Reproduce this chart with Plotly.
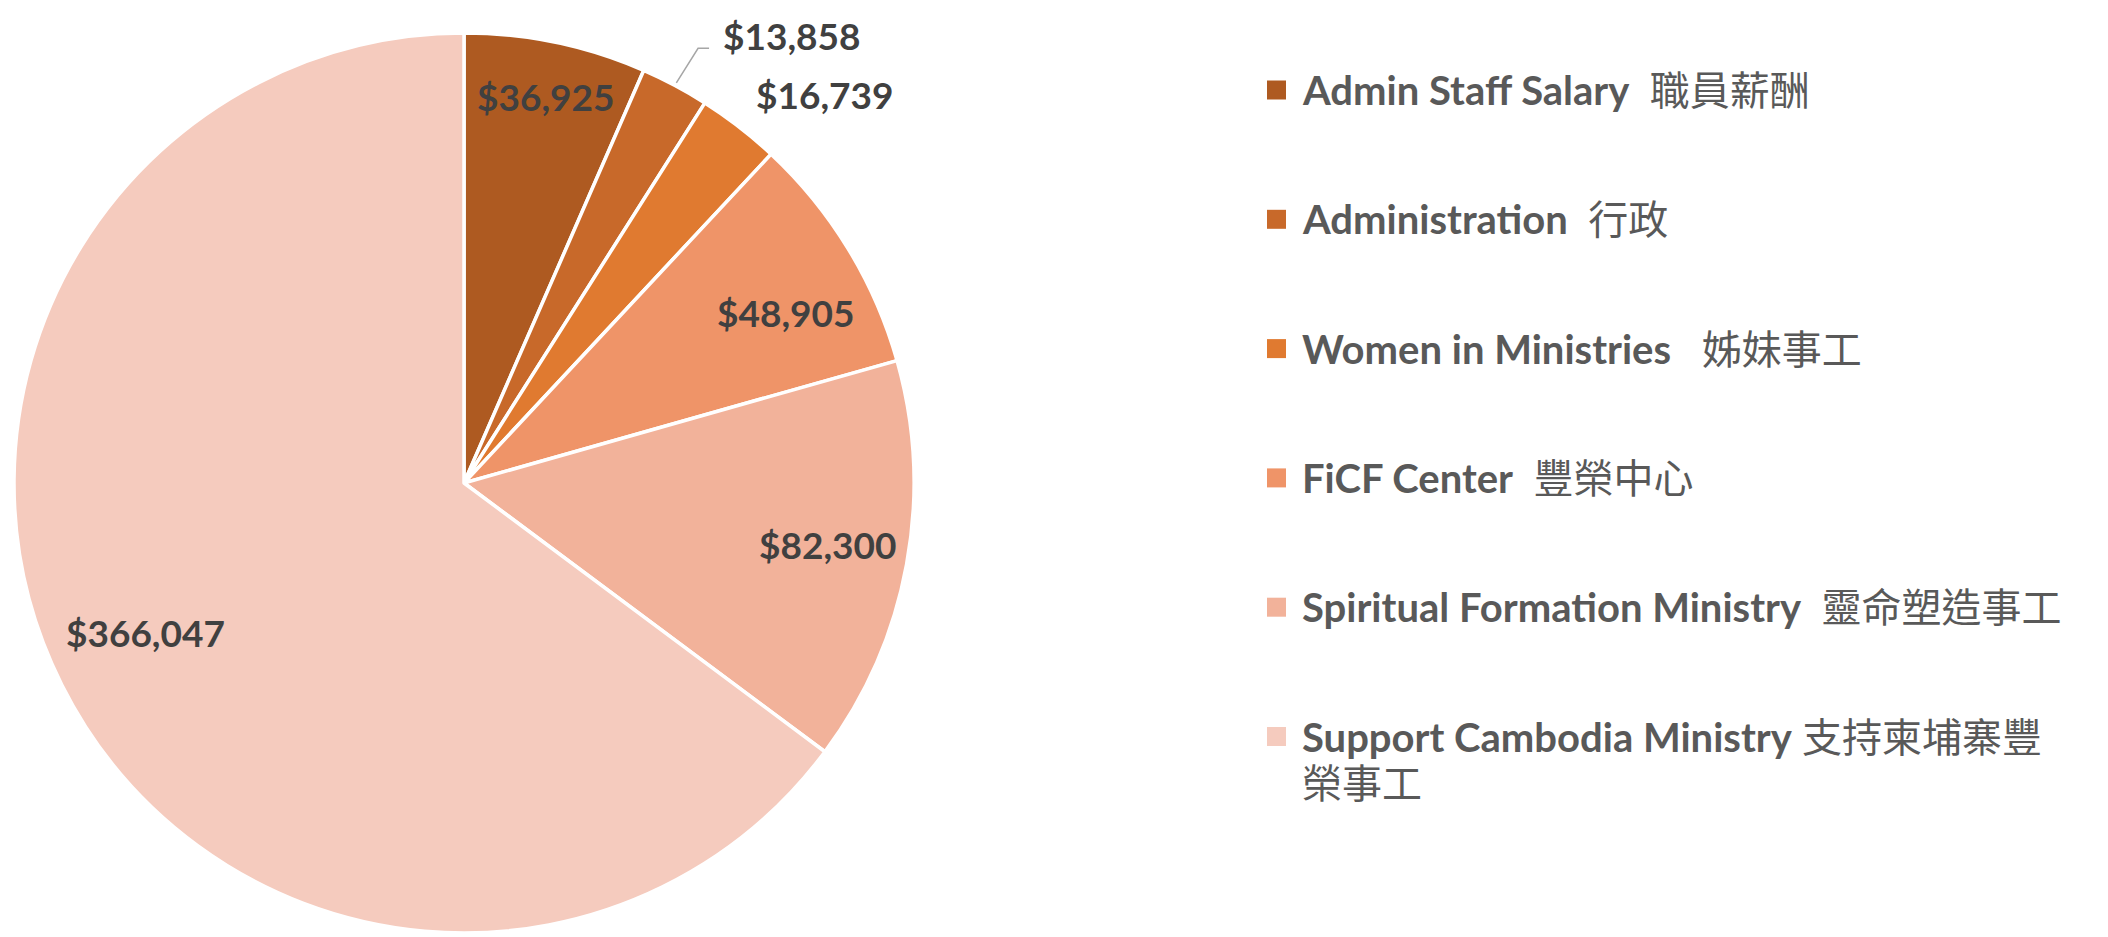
import math
import plotly.graph_objects as go

# ---- data ----
names_en = ["Admin Staff Salary", "Administration", "Women in Ministries",
            "FiCF Center", "Spiritual Formation Ministry", "Support Cambodia Ministry"]
names_zh = ["職員薪酬", "行政", "姊妹事工", "豐榮中心", "靈命塑造事工", "支持柬埔寨豐<br>榮事工"]
gaps = ["  ", "  ", "   ", "  ", "  ", " "]
values = [36925, 13858, 16739, 48905, 82300, 366047]
colors = ["#AE5A21", "#C8692A", "#E07A30", "#EF9468", "#F2B29A", "#F5CBBE"]

# ---- label placement style (radius fraction, angle nudge in degrees) ----
label_r = [0.877, 1.232, 1.178, 0.81, 0.818, 0.783]
label_dang = [0.2, 8.2, 5.2, 3.4, -0.9, 1.5]
leader = [False, True, False, False, False, False]

W, H = 2100, 929
cx, cy, R = 456, 475, 450

labels = [e + g + z.replace("<br>", "") for e, g, z in zip(names_en, gaps, names_zh)]

fig = go.Figure()
fig.add_trace(go.Pie(
    labels=labels, values=values, sort=False, direction="clockwise", rotation=0,
    marker=dict(colors=colors, line=dict(color="white", width=3.5)),
    textinfo="none", showlegend=False,
    domain=dict(x=[(cx - R) / W, (cx + R) / W], y=[(H - cy - R) / H, (H - cy + R) / H]),
))

def px(x, y):
    return x / W, 1 - y / H

shapes, annos = [], []
total = sum(values)
cum = 0
for i, v in enumerate(values):
    mid = (cum + v / 2) / total * 360
    cum += v
    ang = math.radians(mid + label_dang[i])
    lx = cx + label_r[i] * R * math.sin(ang)
    ly = cy - label_r[i] * R * math.cos(ang)
    ax, ay = px(lx, ly)
    annos.append(dict(xref="paper", yref="paper", x=ax, y=ay, xanchor="center", yanchor="middle",
                      showarrow=False, text="<b>$" + f"{v:,}" + "</b>",
                      font=dict(family="Lato", size=37, color="#404040")))
    if leader[i]:
        m = math.radians(mid)
        p0 = (cx + (R + 3) * math.sin(m), cy - (R + 3) * math.cos(m))
        p1 = (lx - 93, ly + 13)
        p2 = (lx - 82, ly + 13)
        pts = [px(*p) for p in (p0, p1, p2)]
        path = "M {} {} L {} {} L {} {}".format(*[c for p in pts for c in p])
        shapes.append(dict(type="path", xref="paper", yref="paper", path=path,
                           line=dict(color="#A6A6A6", width=1.5)))

# legend built from the category lists
LEG_X0, LEG_Y0, LEG_DY = 1259, 82, 129.3
for i, (e, g, z, c) in enumerate(zip(names_en, gaps, names_zh, colors)):
    yc = LEG_Y0 + i * LEG_DY
    shapes.append(dict(type="rect", xref="paper", yref="paper",
                       x0=LEG_X0 / W, x1=(LEG_X0 + 19) / W,
                       y0=1 - (yc + 9.5) / H, y1=1 - (yc - 9.5) / H,
                       fillcolor=c, line=dict(width=0)))
    zl = z.split("<br>")
    lines = ["<span style='font-size:40px'><b>" + e + "</b>" + g + zl[0] + "</span>"]
    lines += ["<span style='font-size:40px'>" + s + "</span>" for s in zl[1:]]
    annos.append(dict(xref="paper", yref="paper", x=(LEG_X0 + 33) / W, y=1 - (yc - 26) / H,
                      xanchor="left", yanchor="top", align="left", showarrow=False,
                      text="<br>".join(lines),
                      font=dict(family="Lato, Noto Sans CJK TC", size=35.5, color="#595959")))

fig.update_layout(width=W, height=H, margin=dict(l=0, r=0, t=0, b=0),
                  paper_bgcolor="white", plot_bgcolor="white",
                  shapes=shapes, annotations=annos)
fig.write_html("out.html")
